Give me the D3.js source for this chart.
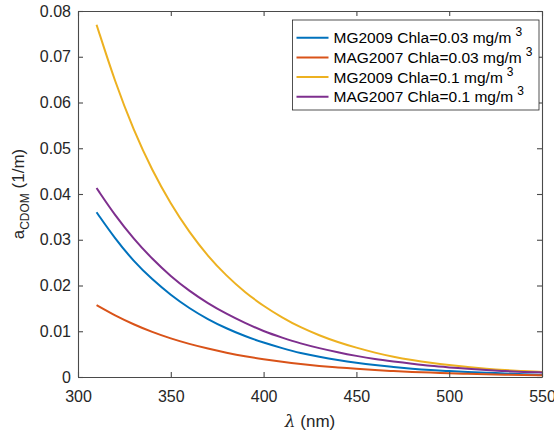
<!DOCTYPE html>
<html>
<head>
<meta charset="utf-8">
<script src="https://cdn.jsdelivr.net/npm/d3@7"></script>
<style>
  body { margin: 0; background: #fff; }
  svg { font-family: "Liberation Sans", Arial, Helvetica, sans-serif; }
  .axis text { fill: #262626; font-size: 16px; }
  .axis path, .axis line { stroke: #4a4a4a; stroke-width: 1.1; }
</style>
</head>
<body>
<div id="vis"></div>
<script>
// wavelength (nm)
var lambda = [310, 320, 330, 340, 350, 360, 370, 380, 390, 400, 410, 420, 430,
              440, 450, 460, 470, 480, 490, 500, 510, 520, 530, 540, 550];

// aCDOM (1/m)
var mg2009_003 = [0.0360, 0.0302, 0.0253, 0.0213, 0.0179, 0.0150, 0.0126, 0.0106, 0.0089,
                  0.0075, 0.0063, 0.0052, 0.0044, 0.0037, 0.0031, 0.0026, 0.0022, 0.0018,
                  0.0015, 0.0013, 0.0011, 0.0009, 0.0008, 0.0006, 0.0005];
var mag2007_003 = [0.0157, 0.0134, 0.0115, 0.0098, 0.0084, 0.0072, 0.0062, 0.0053, 0.0045,
                   0.0039, 0.0033, 0.0028, 0.0024, 0.0021, 0.0018, 0.0015, 0.0013, 0.0011,
                   0.0010, 0.0008, 0.0007, 0.0006, 0.0005, 0.0004, 0.0004];
var mg2009_01 = [0.0770, 0.0644, 0.0539, 0.0451, 0.0378, 0.0316, 0.0264, 0.0221, 0.0185,
                 0.0155, 0.0130, 0.0108, 0.0091, 0.0076, 0.0064, 0.0053, 0.0044, 0.0037,
                 0.0031, 0.0026, 0.0022, 0.0018, 0.0015, 0.0013, 0.0011];
var mag2007_01 = [0.0413, 0.0353, 0.0302, 0.0258, 0.0220, 0.0188, 0.0161, 0.0138, 0.0118,
                  0.0100, 0.0086, 0.0073, 0.0063, 0.0054, 0.0046, 0.0039, 0.0034, 0.0029,
                  0.0024, 0.0021, 0.0018, 0.0015, 0.0013, 0.0011, 0.0010];

var seriesNames = ["MG2009 Chla=0.03 mg/m", "MAG2007 Chla=0.03 mg/m",
                   "MG2009 Chla=0.1 mg/m", "MAG2007 Chla=0.1 mg/m"];
var seriesValues = [mg2009_003, mag2007_003, mg2009_01, mag2007_01];
var colors = ["#0072BD", "#D95319", "#EDB120", "#7E2F8E"];

var xTicks = [300, 350, 400, 450, 500, 550];
var yTicks = [0, 0.01, 0.02, 0.03, 0.04, 0.05, 0.06, 0.07, 0.08];

var width = 554;
var height = 431;
var margin = { top: 11, left: 78, bottom: 54, right: 12 };

var svg = d3.select("#vis")
  .append("svg")
  .attr("width", width)
  .attr("height", height)
  .append("g")
  .attr("transform", "translate(" + margin.left + "," + margin.top + ")");

var w = width - margin.left - margin.right;
var h = height - margin.top - margin.bottom;

var x = d3.scaleLinear().domain([300, 550]).range([0, w]);
var y = d3.scaleLinear().domain([0, 0.08]).range([h, 0]);

// curves
var line = d3.line()
  .x(function(d) { return x(d[0]); })
  .y(function(d) { return y(d[1]); })
  .curve(d3.curveBasis);

seriesValues.forEach(function(vals, i) {
  svg.append("path")
    .datum(lambda.map(function(l, j) { return [l, vals[j]]; }))
    .attr("fill", "none")
    .attr("stroke", colors[i])
    .attr("stroke-width", 2)
    .attr("d", line);
});

// axes, ticks pointing inward, box on
var xAxis = svg.append("g")
  .attr("class", "axis")
  .attr("transform", "translate(0," + h + ")")
  .call(d3.axisBottom(x).tickValues(xTicks).tickSizeInner(-5).tickSizeOuter(0).tickPadding(14));
xAxis.selectAll("text").attr("dy", "0.71em");

svg.append("g")
  .attr("class", "axis")
  .call(d3.axisLeft(y).tickValues(yTicks).tickSizeInner(-5).tickSizeOuter(0).tickPadding(7)
    .tickFormat(function(d) { return d === 0 ? "0" : d3.format(".2f")(d); }));

svg.append("g")
  .attr("class", "axis")
  .call(d3.axisTop(x).tickValues(xTicks).tickSizeInner(-5).tickSizeOuter(0).tickFormat(""));

svg.append("g")
  .attr("class", "axis")
  .attr("transform", "translate(" + w + ",0)")
  .call(d3.axisRight(y).tickValues(yTicks).tickSizeInner(-5).tickSizeOuter(0).tickFormat(""));

// axis labels
svg.append("text")
  .attr("text-anchor", "middle")
  .attr("x", w / 2)
  .attr("y", 416)
  .attr("fill", "#262626")
  .style("font-size", "17px")
  .html('<tspan font-family="DejaVu Serif" font-style="italic">λ</tspan> (nm)');

var yl = svg.append("text")
  .attr("text-anchor", "middle")
  .attr("transform", "translate(-54," + (h / 2) + ") rotate(-90)")
  .attr("fill", "#262626")
  .style("font-size", "17px");
yl.append("tspan").text("a");
yl.append("tspan").attr("dy", 5).style("font-size", "12px").text("CDOM");
yl.append("tspan").attr("dy", -5).text(" (1/m)");

// legend
var legend = svg.append("g")
  .attr("transform", "translate(" + (292.5 - margin.left) + "," + (20 - margin.top) + ")");

legend.append("rect")
  .attr("width", 246.5)
  .attr("height", 90)
  .attr("fill", "#fff")
  .attr("stroke", "#262626")
  .attr("stroke-width", 0.8);

seriesNames.forEach(function(name, i) {
  var ry = 17.7 + i * 19.7;
  legend.append("line")
    .attr("x1", 4).attr("x2", 36)
    .attr("y1", ry).attr("y2", ry)
    .attr("stroke", colors[i])
    .attr("stroke-width", 2);
  var t = legend.append("text")
    .attr("x", 41)
    .attr("y", ry + 5.5)
    .attr("fill", "#000")
    .style("font-size", "15.5px");
  t.append("tspan").text(name);
  t.append("tspan").attr("dx", 4).attr("dy", -7).style("font-size", "12px").text("3");
});
</script>
</body>
</html>
